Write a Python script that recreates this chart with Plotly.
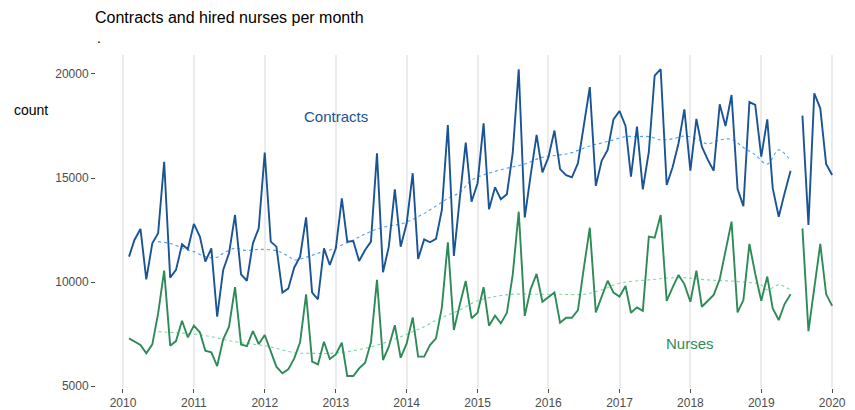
import pandas as pd
import plotly.graph_objects as go

# ---- data (monthly, Feb 2010 .. Jan 2020; Jul 2019 missing) ----
months = pd.date_range("2010-02-01", periods=120, freq="MS")

contracts = [
    11220, 12020, 12550, 10130, 11860, 12340, 15780, 10210, 10580, 11810, 11570,
    12790, 12180, 10980, 11620, 8330, 10580, 11380, 13220, 10370, 10060, 11860, 12580,
    16220, 11940, 11700, 9490, 9680, 10700, 11220, 13110, 9490, 9170, 11620, 10820,
    11620, 14020, 11940, 11970, 11010, 11540, 11940, 16190, 10470, 11700, 14450, 11700,
    12820, 15230, 11110, 12050, 11910, 12070, 13460, 17550, 11250, 13980, 16700, 13860,
    14750, 17630, 13500, 14550, 13980, 14220, 16190, 20230, 13100, 15100, 17070, 15270,
    16000, 17280, 15430, 15140, 15030, 15710, 17550, 19370, 14620, 15830, 16350, 17820,
    18220, 17500, 15060, 17470, 14460, 16260, 19920, 20230, 14660, 15500, 16670, 18300,
    15350, 17840, 16510, 15870, 15350, 18540, 17500, 18990, 14470, 13650, 18650, 18510,
    16030, 17820, 14510, 13140, 14260, 15350, None, 18000, 12740, 19070, 18350, 15670,
    15140,
]

nurses = [
    7290, 7130, 6970, 6570, 7000, 8490, 10550, 6940, 7160, 8140, 7340,
    7900, 7580, 6700, 6620, 5960, 7240, 7850, 9750, 7000, 6920, 7640, 7020,
    7450, 6650, 5930, 5610, 5800, 6330, 7100, 9410, 6170, 6040, 7130, 6300,
    6520, 7080, 5480, 5480, 5850, 6120, 7100, 10100, 6250, 6890, 7920, 6360,
    7050, 8300, 6410, 6410, 6970, 7290, 8770, 11910, 7690, 8890, 10050, 8260,
    8520, 9750, 7900, 8380, 8010, 8520, 10340, 13380, 8370, 9650, 10390, 9050,
    9260, 9500, 8040, 8280, 8280, 8650, 10660, 12610, 8540, 9300, 10060, 9490,
    9300, 9810, 8520, 8780, 8610, 12180, 12130, 13220, 9090, 9730, 10340, 9900,
    9050, 10550, 8810, 9100, 9380, 10130, 11490, 12900, 8540, 9130, 11830, 10390,
    9100, 10260, 8730, 8170, 8940, 9410, None, 12580, 7640, 9700, 11830, 9420,
    8850,
]

# ---- trend lines ----
contracts_trend_dates = [
    "2010-07-01", "2010-09-01", "2010-12-01", "2011-01-01", "2011-03-01", "2011-05-01",
    "2011-06-01", "2011-08-01", "2011-10-01", "2011-12-01", "2012-03-01", "2012-05-01",
    "2012-06-01", "2012-08-01", "2012-10-01", "2012-12-01", "2013-02-01", "2013-04-01",
    "2013-06-01", "2013-08-01", "2013-10-01", "2013-12-01", "2014-02-01", "2014-04-01",
    "2014-06-01", "2014-08-01", "2014-10-01", "2014-12-01", "2015-03-01", "2015-06-01",
    "2015-09-01", "2015-12-01", "2016-03-01", "2016-05-01", "2016-08-01", "2016-11-01",
    "2017-02-01", "2017-04-01", "2017-06-01", "2017-08-01", "2017-10-01", "2017-12-01",
    "2018-02-01", "2018-04-01", "2018-06-01", "2018-08-01", "2018-10-01", "2018-12-01",
    "2019-02-01", "2019-04-01", "2019-06-01",
]
contracts_trend = [
    11940, 11850, 11540, 11460, 11220, 11190,
    11380, 11620, 11510, 11570, 11500, 11250,
    11060, 11190, 11380, 11540, 11780, 12020,
    12310, 12550, 12690, 12790, 13010, 13300,
    13650, 14020, 14300, 14900, 15230, 15470,
    15670, 16000, 16110, 16220, 16540, 16750,
    16990, 16990, 16990, 16830, 16880, 17020,
    16880, 16640, 16830, 16860, 16470, 16110,
    15670, 16350, 15830,
]

nurses_trend_dates = [
    "2010-07-01", "2010-10-01", "2011-01-01", "2011-04-01", "2011-07-01", "2011-10-01",
    "2012-01-01", "2012-03-01", "2012-06-01", "2012-09-01", "2012-12-01", "2013-03-01",
    "2013-06-01", "2013-09-01", "2013-12-01", "2014-02-01", "2014-04-01", "2014-06-01",
    "2014-08-01", "2014-10-01", "2015-01-01", "2015-04-01", "2015-07-01", "2015-11-01",
    "2016-03-01", "2016-07-01", "2016-10-01", "2017-01-01", "2017-06-01", "2017-11-01",
    "2018-04-01", "2018-09-01", "2019-01-01", "2019-02-01", "2019-04-01", "2019-06-01",
]
nurses_trend = [
    7610, 7560, 7500, 7370, 7180, 7050,
    6940, 6810, 6600, 6570, 6570, 6650,
    6810, 7050, 7370, 7610, 7850, 8170,
    8410, 8650, 9100, 9300, 9410, 9410,
    9410, 9410, 9620, 9940, 10100, 10210,
    10100, 10020, 9860, 9620, 9860, 9620,
]

y_ticks = [5000, 10000, 15000, 20000]
x_ticks = [f"{y}-01-01" for y in range(2010, 2021)]
x_tick_labels = [str(y) for y in range(2010, 2021)]

BLUE = "#1b5494"
GREEN = "#2e8b57"
LBLUE = "#4ea1f0"
LGREEN = "#74dba0"
FONT = "Liberation Sans, Arial, sans-serif"

W, H = 855, 410
ML, MR, MT, MB = 96, 5, 55, 22
PW, PH = W - ML - MR, H - MT - MB


def px(x):
    return (x - ML) / PW


def py(y):
    return (H - MB - y) / PH


fig = go.Figure()
fig.add_trace(go.Scatter(x=contracts_trend_dates, y=contracts_trend, mode="lines",
                         line=dict(color=LBLUE, width=1.1, dash="3px,3px", shape="spline"),
                         hoverinfo="skip"))
fig.add_trace(go.Scatter(x=nurses_trend_dates, y=nurses_trend, mode="lines",
                         line=dict(color=LGREEN, width=1.1, dash="3px,3px", shape="spline"),
                         hoverinfo="skip"))
fig.add_trace(go.Scatter(x=months, y=contracts, mode="lines", name="Contracts",
                         line=dict(color=BLUE, width=1.9), connectgaps=False))
fig.add_trace(go.Scatter(x=months, y=nurses, mode="lines", name="Nurses",
                         line=dict(color=GREEN, width=1.9), connectgaps=False))

fig.update_layout(
    width=W, height=H,
    margin=dict(l=ML, r=MR, t=MT, b=MB, autoexpand=False),
    paper_bgcolor="white", plot_bgcolor="white",
    showlegend=False,
    font=dict(family=FONT, color="#4d4d4d", size=12),
    title=dict(text="Contracts and hired nurses per month", x=95 / W, xanchor="left",
               y=1 - 17 / H, yanchor="middle",
               font=dict(family=FONT, size=16, color="black")),
    xaxis=dict(range=["2009-08-15", "2020-04-02"], tickmode="array",
               tickvals=x_ticks, ticktext=x_tick_labels, automargin=False,
               showgrid=True, gridcolor="#ebebeb", gridwidth=1.5,
               ticks="outside", ticklen=4, tickcolor="#4d4d4d", tickwidth=1,
               showline=False, zeroline=False,
               tickfont=dict(size=12, color="#4d4d4d")),
    yaxis=dict(range=[4904, 20913], tickmode="array", tickvals=y_ticks,
               ticktext=[str(v) for v in y_ticks], automargin=False,
               showgrid=False, zeroline=False, showline=False,
               ticks="outside", ticklen=4, tickcolor="#4d4d4d", tickwidth=1,
               tickfont=dict(size=12, color="#4d4d4d")),
    annotations=[
        dict(text=".", xref="paper", yref="paper", x=px(95), y=py(38),
             xanchor="left", yanchor="middle", showarrow=False,
             font=dict(family=FONT, size=14, color="#000000")),
        dict(text="count", xref="paper", yref="paper", x=px(12), y=py(110),
             xanchor="left", yanchor="middle", showarrow=False,
             font=dict(family=FONT, size=14, color="black")),
        dict(text="Contracts", x="2013-01-01", y=17980, showarrow=False,
             font=dict(family=FONT, size=15, color=BLUE)),
        dict(text="Nurses", x="2018-01-01", y=7020, showarrow=False,
             font=dict(family=FONT, size=15, color=GREEN)),
    ],
)

fig.write_html("out.html", config={"displayModeBar": False},
               post_script="document.body.style.margin='0';document.body.style.padding='0';")
